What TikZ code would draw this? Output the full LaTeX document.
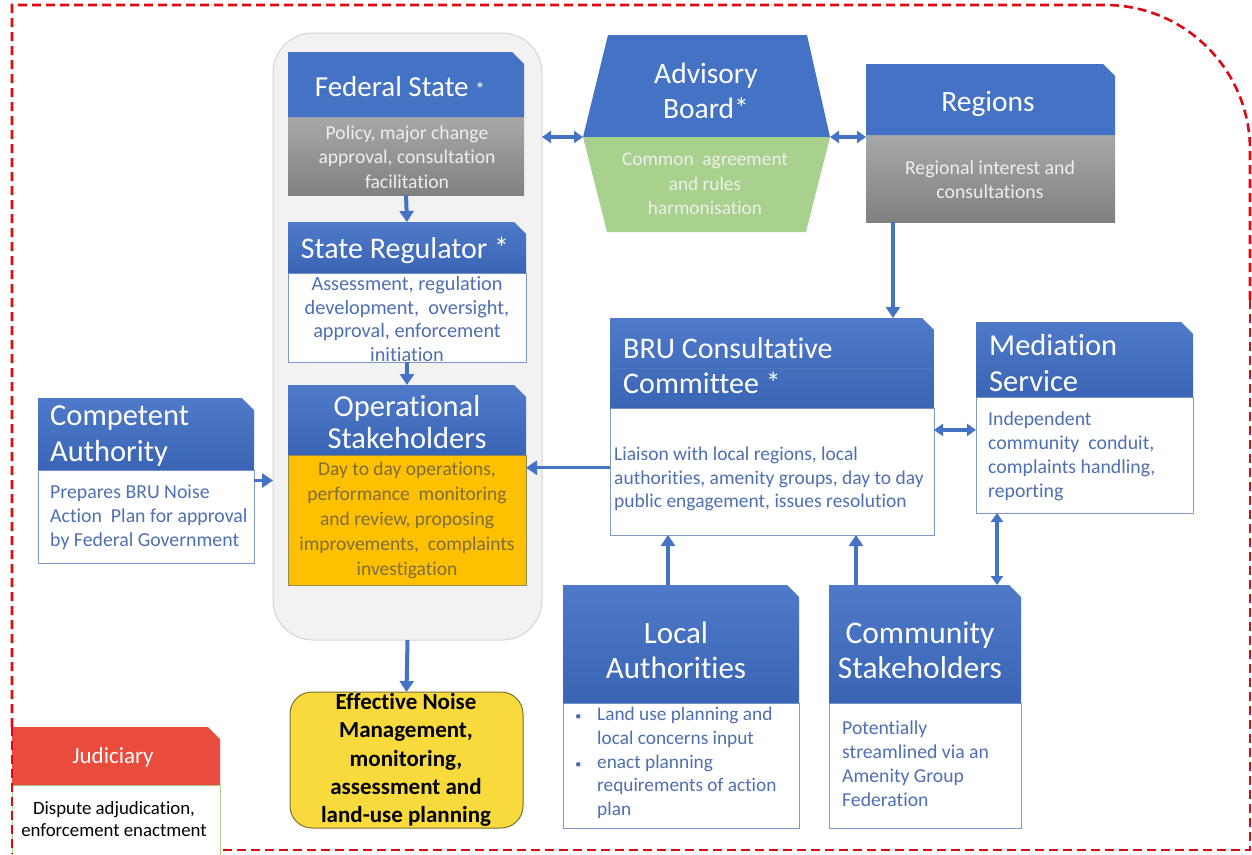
\documentclass[tikz,border=0pt]{standalone}
\usepackage{fontspec}
\setmainfont{Carlito}[Ligatures=NoCommon]
\usetikzlibrary{arrows.meta,calc,fit}
\definecolor{hblue}{HTML}{4472C4}
\definecolor{hT}{HTML}{4F7AC9}
\definecolor{hM}{HTML}{7A9BD8}
\definecolor{hB}{HTML}{3A64B4}
\definecolor{btext}{HTML}{4F6FB3}
\definecolor{bline}{HTML}{7D98C9}
\definecolor{gtop}{HTML}{A8A8A8}
\definecolor{gbot}{HTML}{808080}
\definecolor{greenA}{HTML}{A9D18E}
\definecolor{orangeA}{HTML}{FFC000}
\definecolor{obord}{HTML}{9C8A4A}
\definecolor{yellowA}{HTML}{F8DA3C}
\definecolor{ybord}{HTML}{7A7230}
\definecolor{redA}{HTML}{E94B3C}
\definecolor{dred}{HTML}{DD0A12}
\definecolor{contf}{HTML}{F2F2F2}
\definecolor{contb}{HTML}{D4D4D4}
\definecolor{arrb}{HTML}{4472C4}
\definecolor{ltext}{HTML}{EEEEEE}
\newcommand\tbox[8]{%
  \node[fit={(#2,#3) (#4,#5)}, inner sep=0pt, outer sep=0pt] (#1) {};
  \path[#8] (#2,#6) rectangle (#4,#5);
  \path[#7] (#2,#3) -- (#4-12,#3) -- (#4,#3+12) -- (#4,#6) -- (#2,#6) -- cycle;
}
\begin{document}
\begin{tikzpicture}[x=1pt,y=-1pt,
  hshade/.style={top color=hT, middle color=hM, bottom color=hB},
  flatblue/.style={fill=hblue},
  graybody/.style={top color=gtop, bottom color=gbot},
  whitebody/.style={fill=white, draw=bline, line width=1pt},
  htext/.style={text=white, font=\fontsize{30}{35}\selectfont, inner sep=0pt, align=center},
  htextl/.style={htext, align=left, anchor=west},
  btxt/.style={text=btext, font=\fontsize{19.8}{24}\selectfont, inner sep=0pt, align=center},
  btxtl/.style={btxt, align=left, anchor=west},
  ltxt/.style={text=ltext, font=\fontsize{19.6}{24.5}\selectfont, inner sep=0pt, align=center},
  arr/.style={draw=arrb, line width=4pt, -{Triangle[length=11pt,width=14pt]}},
  darr/.style={draw=arrb, line width=3.5pt, {Triangle[length=9pt,width=12pt]}-{Triangle[length=9pt,width=12pt]}},
  border/.style={draw=dred, dash pattern=on 9pt off 5pt}
]
\useasboundingbox (0,0) rectangle (1252,854);

% outer dashed border
\draw[border, line width=2.6pt] (12,727) -- (12,5) -- (1105,5) arc[start angle=-90, end angle=0, radius=145] -- (1250,300);
\draw[border, line width=1.3pt] (1250,300) -- (1250,850) -- (220,850);

% container
\node[fit={(273,33) (542,640)}, inner sep=0pt, outer sep=0pt, draw=contb, fill=contf, rounded corners=40pt, line width=1pt] (cont) {};

% boxes
\tbox{fed}{288}{52}{524}{195}{117}{flatblue}{graybody}
\tbox{sreg}{288}{222}{526}{362}{273}{hshade}{whitebody}
\tbox{op}{288}{385}{526}{585}{455}{hshade}{fill=orangeA, draw=obord, line width=1pt}
\tbox{comp}{38}{398}{254}{563}{470}{hshade}{whitebody}
\tbox{bru}{610}{318}{934}{535}{408}{hshade}{whitebody}
\tbox{med}{976}{322}{1193}{513}{397}{hshade}{whitebody}
\tbox{loc}{563}{585}{799}{828}{703}{hshade}{whitebody}
\tbox{com}{829}{585}{1021}{828}{703}{hshade}{whitebody}
\tbox{regn}{866}{64}{1115}{222}{135}{flatblue}{graybody}
\tbox{jud}{12}{727}{220}{862}{785}{fill=redA}{fill=white, draw=greenA, line width=1pt}
\draw[border, line width=2.6pt] (12,727) -- (12,854);
\draw[hB!70!hM, line width=0.8pt] (610,368) -- (934,368);

% advisory board
\node[fit={(583,35) (830,232)}, inner sep=0pt, outer sep=0pt] (adv) {};
\fill[hblue] (608,35) -- (807,35) -- (830,137) -- (583,137) -- cycle;
\fill[greenA] (583,137) -- (830,137) -- (806,232) -- (607,232) -- cycle;
\coordinate (advL) at (583,137);
\coordinate (advR) at (830,137);

% effective noise
\node[fit={(290,692) (523,828)}, inner sep=0pt, outer sep=0pt, draw=ybord, fill=yellowA, rounded corners=22pt, line width=1pt] (eff) {};

% texts
\node[htext, font=\fontsize{29}{34}\selectfont] (fedH) at (400,87) {Federal State {\fontsize{20}{20}\selectfont *}};
\node[ltxt] (fedB) at (407,157) {Policy, major change\\approval, consultation\\facilitation};
\node[htext] (sregH) at (405,250) {State Regulator *};
\node[btxt, font=\fontsize{20.3}{23.5}\selectfont] (sregB) at (407,319) {Assessment, regulation\\development,~ oversight,\\approval, enforcement\\initiation};
\node[htext, font=\fontsize{30.5}{32}\selectfont] (opH) at (407,422) {Operational\\Stakeholders};
\node[btxt, text=obord!80!black, font=\fontsize{19.5}{25}\selectfont] (opB) at (407,520) {Day to day operations,\\performance~ monitoring\\and review, proposing\\improvements,~ complaints\\investigation};
\node[htextl, font=\fontsize{30.5}{36}\selectfont] (compH) at (50,436) {Competent\\Authority};
\node[btxtl] (compB) at (50,517) {Prepares BRU Noise\\Action~ Plan for approval\\by Federal Government};
\node[htextl, font=\fontsize{30}{35}\selectfont] (bruH) at (623,366) {BRU Consultative\\Committee *};
\node[btxtl, font=\fontsize{19.5}{23.5}\selectfont] (bruB) at (614,479) {Liaison with local regions, local\\authorities, amenity groups, day to day\\public engagement, issues resolution};
\node[htextl, font=\fontsize{30.5}{36}\selectfont] (medH) at (989,363) {Mediation\\Service};
\node[btxtl, font=\fontsize{19.8}{24}\selectfont] (medB) at (988,456) {Independent\\community~ conduit,\\complaints handling,\\reporting};
\node[htext, font=\fontsize{31}{35}\selectfont] (locH) at (676,650) {Local\\Authorities};
\node[btxtl, font=\fontsize{19.3}{23.7}\selectfont] (locB) at (575,763) {\makebox[22pt][l]{\fontsize{13}{13}\selectfont\textbullet}Land use planning and\\\hspace*{22pt}local concerns input\\\makebox[22pt][l]{\fontsize{13}{13}\selectfont\textbullet}enact planning\\\hspace*{22pt}requirements of action\\\hspace*{22pt}plan};
\node[htext, font=\fontsize{31.5}{35}\selectfont] (comH) at (920,650) {Community\\Stakeholders};
\node[btxtl, font=\fontsize{19.7}{24}\selectfont] (comB) at (842,764) {Potentially\\streamlined via an\\Amenity Group\\Federation};
\node[htext, font=\fontsize{29.5}{35}\selectfont] (advH) at (706,91) {Advisory\\Board*};
\node[ltxt, font=\fontsize{19.3}{24.5}\selectfont] (advB) at (705,184) {Common~ agreement\\and rules\\harmonisation};
\node[htext, font=\fontsize{29.5}{35}\selectfont] (regnH) at (988,104) {Regions};
\node[ltxt, font=\fontsize{19.8}{24}\selectfont] (regnB) at (990,180) {Regional interest and\\consultations};
\node[text=black, font=\bfseries\fontsize{23}{28.2}\selectfont, inner sep=0pt, align=center] (effT) at (406,760) {Effective Noise\\Management,\\monitoring,\\assessment and\\land-use planning};
\node[text=white, font=\fontsize{23}{24}\selectfont, inner sep=0pt] (judH) at (113,757) {Judiciary};
\node[text=black, font=\fontsize{18.8}{22}\selectfont, inner sep=0pt, align=center] (judB) at (114,819) {Dispute adjudication,\\enforcement enactment};

% connectors
\draw[arr] (fed.south) -- (sreg.north);
\draw[arr] (sreg.south) -- (op.north);
\draw[arr] (cont.south) -- (eff.north);
\draw[arr, line width=3pt] (comp.east) -- (comp.east -| cont.west);
\coordinate (b1) at ($(bru.north west)!0.69!(bru.south west)$);
\draw[arr, line width=3.5pt] (b1) -- (b1 -| op.east);
\draw[darr] (advL -| cont.east) -- (advL);
\draw[darr] (advR) -- (advR -| regn.west);
\coordinate (r1) at ($(regn.south west)+(27,0)$);
\draw[arr, line width=3.5pt] (r1) -- (r1 |- bru.north);
\coordinate (m1) at ($(med.north west)!0.565!(med.south west)$);
\draw[darr] (m1 -| bru.east) -- (m1);
\coordinate (m2) at ($(med.south west)+(21,0)$);
\draw[darr] (m2) -- (m2 |- com.north);
\coordinate (l1) at ($(loc.north west)+(105,0)$);
\draw[arr] (l1) -- (l1 |- bru.south);
\coordinate (c1) at ($(com.north west)+(27,0)$);
\draw[arr] (c1) -- (c1 |- bru.south);
\end{tikzpicture}
\end{document}
